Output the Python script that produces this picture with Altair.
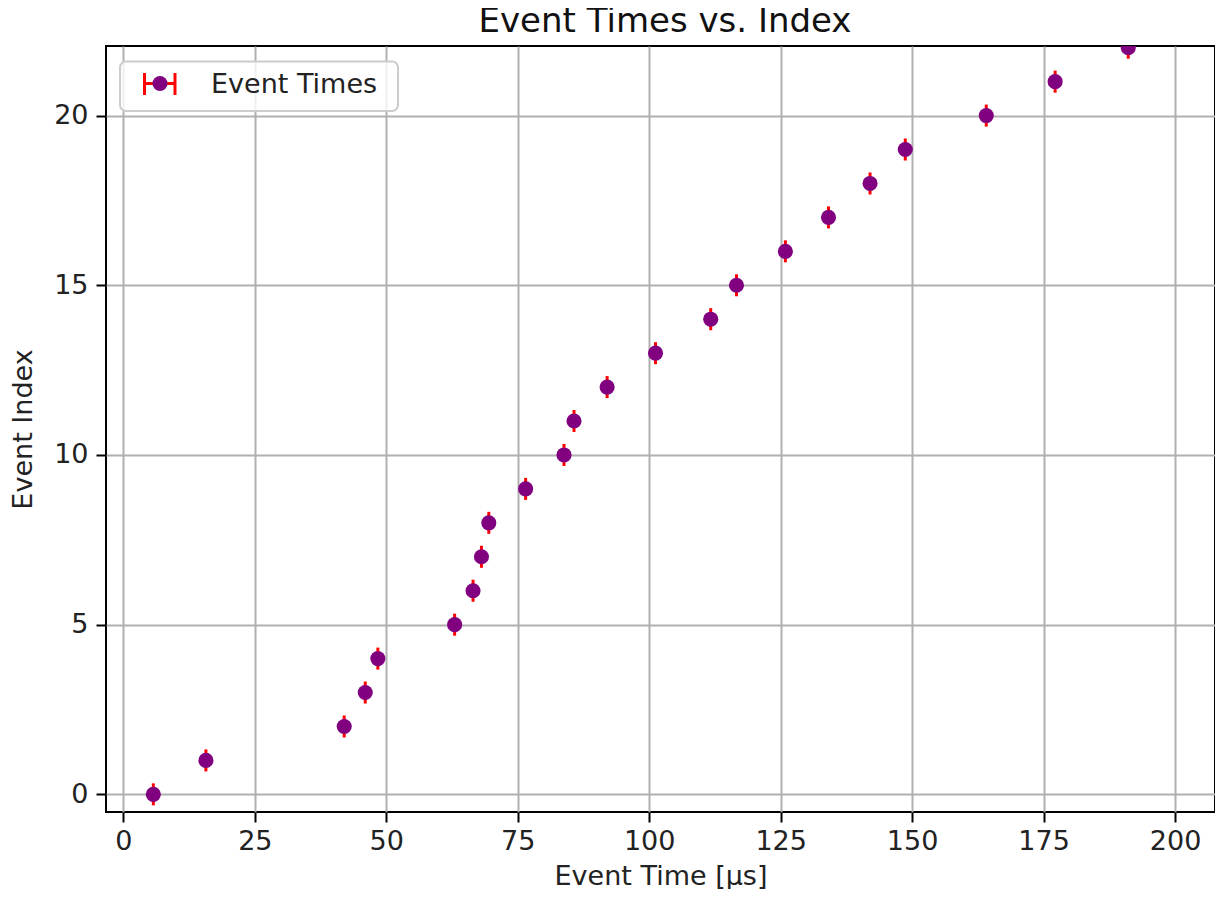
import altair as alt
import pandas as pd

# Data
event_time_us = [5.7, 15.7, 42.0, 46.0, 48.4, 63.0, 66.5, 68.1, 69.5, 76.5,
                 83.8, 85.7, 92.0, 101.2, 111.7, 116.6, 125.9, 134.1, 142.0,
                 148.7, 164.1, 177.2, 191.1]
event_index = list(range(len(event_time_us)))
x_ticks = [0, 25, 50, 75, 100, 125, 150, 175, 200]
y_ticks = [0, 5, 10, 15, 20]
legend_label = ["Event Times"]
chart_title = ["Event Times vs. Index"]

df = pd.DataFrame({"t": event_time_us, "i": event_index})
df_leg = pd.DataFrame({"label": legend_label})
df_title = pd.DataFrame({"title": chart_title})

FONT = "DejaVu Sans"
W, H = 1109, 766
xscale = alt.Scale(domain=[-3.3, 207.6], nice=False, zero=False)
yscale = alt.Scale(domain=[-0.52, 22.05], nice=False, zero=False)

xenc = alt.X("t:Q", scale=xscale,
             axis=alt.Axis(values=x_ticks, title="Event Time [μs]", format="d"))
yenc = alt.Y("i:Q", scale=yscale,
             axis=alt.Axis(values=y_ticks, title="Event Index", format="d"))

caps = alt.Chart(df).mark_tick(orient="vertical", color="red", size=22,
                               thickness=3, clip=True, opacity=1).encode(x=xenc, y=yenc)
pts = alt.Chart(df).mark_circle(color="purple", size=228, opacity=1,
                                clip=True).encode(x=xenc, y=yenc)

leg_box = alt.Chart(df_leg).mark_rect(
    fill="white", fillOpacity=0.8, stroke="#cccccc", strokeWidth=2, cornerRadius=6
).encode(x=alt.value(14), x2=alt.value(292), y=alt.value(15.5), y2=alt.value(65))
leg_bar = alt.Chart(df_leg).mark_rule(color="red", strokeWidth=3).encode(
    x=alt.value(38.5), x2=alt.value(69), y=alt.value(37.5))
leg_cap1 = alt.Chart(df_leg).mark_rule(color="red", strokeWidth=3).encode(
    x=alt.value(38.5), y=alt.value(27), y2=alt.value(49))
leg_cap2 = alt.Chart(df_leg).mark_rule(color="red", strokeWidth=3).encode(
    x=alt.value(69), y=alt.value(27), y2=alt.value(49))
leg_pt = alt.Chart(df_leg).mark_circle(color="purple", size=228, opacity=1).encode(
    x=alt.value(54), y=alt.value(37.5))
leg_txt = alt.Chart(df_leg).mark_text(
    align="left", baseline="middle", font=FONT, fontSize=27, color="#222222"
).encode(x=alt.value(105), y=alt.value(39), text="label:N")

title_txt = alt.Chart(df_title).mark_text(
    align="center", baseline="alphabetic", font=FONT, fontSize=34, color="#111111"
).encode(x=alt.value(559), y=alt.value(-14), text="title:N")

chart = alt.layer(caps, pts, leg_box, leg_bar, leg_cap1, leg_cap2, leg_pt, leg_txt,
                  title_txt).properties(
    width=W, height=H,
    autosize=alt.AutoSizeParams(type="none"),
    padding={"left": 98, "top": 38, "right": 0, "bottom": 77},
).configure_view(
    stroke="black", strokeWidth=2
).configure_axis(
    grid=True, gridColor="#b0b0b0", gridWidth=2, domain=False,
    ticks=True, tickColor="black", tickWidth=2, tickSize=10,
    labelFont=FONT, labelFontSize=27, labelColor="#222222", labelPadding=6,
    titleFont=FONT, titleFontSize=27, titleColor="#222222", titleFontWeight="normal",
).configure_axisX(titlePadding=9).configure_axisY(titlePadding=16, labelPadding=8)

chart.save("out.html", embed_options={"renderer": "svg", "actions": False})
